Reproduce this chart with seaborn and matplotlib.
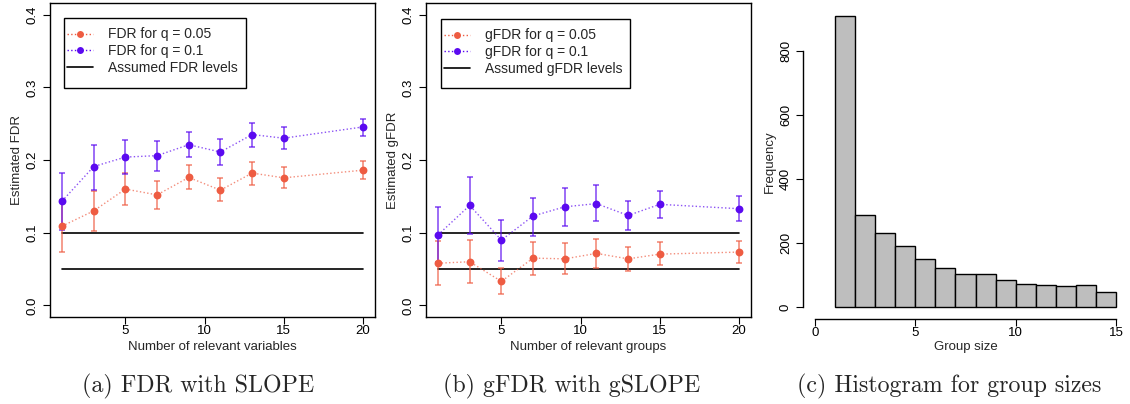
import matplotlib
matplotlib.use("Agg")
import matplotlib.pyplot as plt
import seaborn as sns
import numpy as np
import pandas as pd
from matplotlib.lines import Line2D
from matplotlib.patches import Rectangle

# ---------------- data ----------------
n_relevant = [1, 3, 5, 7, 9, 11, 13, 15, 20]

fdr_q005 = [0.109, 0.130, 0.160, 0.152, 0.176, 0.1585, 0.182, 0.1755, 0.186]
fdr_q005_lo = [0.073, 0.102, 0.138, 0.132, 0.160, 0.143, 0.166, 0.161, 0.1736]
fdr_q005_hi = [0.145, 0.157, 0.182, 0.171, 0.193, 0.175, 0.197, 0.190, 0.198]

fdr_q01 = [0.1434, 0.191, 0.204, 0.206, 0.221, 0.211, 0.235, 0.230, 0.2455]
fdr_q01_lo = [0.104, 0.159, 0.181, 0.185, 0.204, 0.193, 0.218, 0.215, 0.233]
fdr_q01_hi = [0.1828, 0.221, 0.228, 0.226, 0.238, 0.229, 0.251, 0.245, 0.257]

gfdr_q005 = [0.058, 0.060, 0.033, 0.065, 0.064, 0.0715, 0.064, 0.0705, 0.0733]
gfdr_q005_lo = [0.028, 0.031, 0.015, 0.042, 0.043, 0.052, 0.047, 0.055, 0.0586]
gfdr_q005_hi = [0.088, 0.090, 0.052, 0.0875, 0.086, 0.091, 0.080, 0.0866, 0.088]

gfdr_q01 = [0.097, 0.1375, 0.0898, 0.123, 0.1356, 0.140, 0.1237, 0.139, 0.133]
gfdr_q01_lo = [0.059, 0.0976, 0.0614, 0.096, 0.109, 0.116, 0.1035, 0.120, 0.116]
gfdr_q01_hi = [0.135, 0.177, 0.118, 0.148, 0.162, 0.165, 0.1434, 0.158, 0.150]

assumed_levels = [0.1, 0.05]

group_size_bins = [1, 2, 3, 4, 5, 6, 7, 8, 9, 10, 11, 12, 13, 14, 15]
group_size_counts = [911, 286, 231, 191, 149, 122, 102, 103, 85, 72, 70, 67, 68, 47]

# ---------------- style ----------------
sns.set_style("white")
plt.rcParams["font.family"] = ["Liberation Sans", "DejaVu Sans"]
ORANGE = "#EE5C42"
PURPLE = "#5B0AF0"
FS = 9.5

W, H = 1130, 404
fig = plt.figure(figsize=(W / 100, H / 100), dpi=100)


def px_axes(left, top, right, bottom):
    return fig.add_axes([left / W, 1 - bottom / H, (right - left) / W, (bottom - top) / H])


def panel(ax, y1, y1lo, y1hi, y2, y2lo, y2hi, labels, xlabel, ylabel, leg_box):
    for y, lo, hi, col in [(y1, y1lo, y1hi, ORANGE), (y2, y2lo, y2hi, PURPLE)]:
        df = pd.DataFrame({"x": n_relevant, "y": y})
        ax.errorbar(n_relevant, y,
                    yerr=[np.array(y) - np.array(lo), np.array(hi) - np.array(y)],
                    fmt="none", ecolor=col, alpha=0.65, elinewidth=1.3,
                    capsize=2.2, capthick=1.3, zorder=2)
        sns.lineplot(data=df, x="x", y="y", ax=ax, color=col, linestyle=":",
                     linewidth=1.0, alpha=0.7, zorder=3, legend=False)
        sns.scatterplot(data=df, x="x", y="y", ax=ax, color=col, s=32,
                        edgecolor=col, linewidth=0, zorder=4, legend=False)
    for lvl in assumed_levels:
        sns.lineplot(x=[n_relevant[0], n_relevant[-1]], y=[lvl, lvl], ax=ax,
                     color="black", linewidth=1.2, zorder=1, legend=False)
    ax.set_xlim(0.24, 20.76)
    ax.set_ylim(-0.016, 0.416)
    ax.set_xticks([5, 10, 15, 20])
    ax.set_yticks([0.0, 0.1, 0.2, 0.3, 0.4])
    ax.set_yticklabels(["0.0", "0.1", "0.2", "0.3", "0.4"], rotation=90, va="center")
    ax.tick_params(axis="both", direction="out", length=5, width=0.8,
                   labelsize=FS, color="black", labelcolor="black")
    ax.tick_params(axis="y", pad=3)
    ax.tick_params(axis="x", pad=1)
    ax.tick_params(left=True, bottom=True)
    for sp in ax.spines.values():
        sp.set_visible(True)
        sp.set_color("black")
        sp.set_linewidth(1.0)
    ax.set_xlabel(xlabel, fontsize=FS, va="center")
    ax.xaxis.set_label_coords(0.5, -0.0955)
    ax.set_ylabel(ylabel, fontsize=FS, va="center")
    ax.yaxis.set_label_coords(-0.1015, 0.5)

    handles = [
        Line2D([], [], color=ORANGE, linestyle=":", linewidth=1.0, marker="o",
               markersize=5, markeredgewidth=0),
        Line2D([], [], color=PURPLE, linestyle=":", linewidth=1.0, marker="o",
               markersize=5, markeredgewidth=0),
        Line2D([], [], color="black", linewidth=1.2),
    ]
    x0, y0, x1, y1_ = leg_box
    ax.add_patch(Rectangle((x0, y1_), x1 - x0, y0 - y1_, transform=ax.transAxes,
                           fill=False, edgecolor="black", linewidth=1.0, zorder=5))
    ax.legend(handles, labels, loc="upper left",
              bbox_to_anchor=(x0 + 0.008, y0 - 0.03), frameon=False,
              fontsize=10, handlelength=1.9, handletextpad=1.05,
              labelspacing=0.2, borderpad=0.0, borderaxespad=0.0)


ax1 = px_axes(50, 3, 375, 317)
panel(ax1, fdr_q005, fdr_q005_lo, fdr_q005_hi, fdr_q01, fdr_q01_lo, fdr_q01_hi,
      ["FDR for q = 0.05", "FDR for q = 0.1", "Assumed FDR levels"],
      "Number of relevant variables", "Estimated FDR",
      (0.043, 0.952, 0.603, 0.729))

ax2 = px_axes(426, 3, 751, 317)
panel(ax2, gfdr_q005, gfdr_q005_lo, gfdr_q005_hi, gfdr_q01, gfdr_q01_lo, gfdr_q01_hi,
      ["gFDR for q = 0.05", "gFDR for q = 0.1", "Assumed gFDR levels"],
      "Number of relevant groups", "Estimated gFDR",
      (0.046, 0.949, 0.628, 0.729))

# ---------------- histogram ----------------
ax3 = px_axes(803, 4, 1128, 318.6)
centers = [(a + b) / 2 for a, b in zip(group_size_bins[:-1], group_size_bins[1:])]
sns.histplot(x=centers, weights=group_size_counts, bins=group_size_bins, ax=ax3,
             color="#BEBEBE", edgecolor="black", linewidth=1.0, alpha=1.0)
ax3.set_xlim(-0.6, 15.6)
ax3.set_ylim(-36.4, 947)
ax3.set_xticks([0, 5, 10, 15])
ax3.set_yticks([0, 200, 400, 600, 800])
ax3.set_yticklabels(["0", "200", "400", "600", "800"], rotation=90, va="center")
for s in ["top", "right"]:
    ax3.spines[s].set_visible(False)
ax3.spines["left"].set_bounds(0, 800)
ax3.spines["bottom"].set_bounds(0, 15)
for s in ["left", "bottom"]:
    ax3.spines[s].set_visible(True)
    ax3.spines[s].set_color("black")
    ax3.spines[s].set_linewidth(1.0)
ax3.tick_params(axis="both", direction="out", length=5, width=0.8,
                labelsize=FS, color="black", labelcolor="black", left=True, bottom=True)
ax3.tick_params(axis="y", pad=3)
ax3.tick_params(axis="x", pad=1)
ax3.set_xlabel("Group size", fontsize=FS, va="center")
ax3.xaxis.set_label_coords(0.5, -0.0918)
ax3.set_ylabel("Frequency", fontsize=FS, va="center")
ax3.yaxis.set_label_coords(-0.1015, 0.5)

# ---------------- captions ----------------
cap_kw = dict(fontsize=17.2, family="cmr10", va="center", ha="left")
fig.text(82 / W, 1 - 386 / H, "(a) FDR with SLOPE", **cap_kw)
fig.text(443 / W, 1 - 386 / H, "(b) gFDR with gSLOPE", **cap_kw)
fig.text(797 / W, 1 - 386 / H, "(c) Histogram for group sizes", **cap_kw)

fig.savefig("out.png", dpi=100)
